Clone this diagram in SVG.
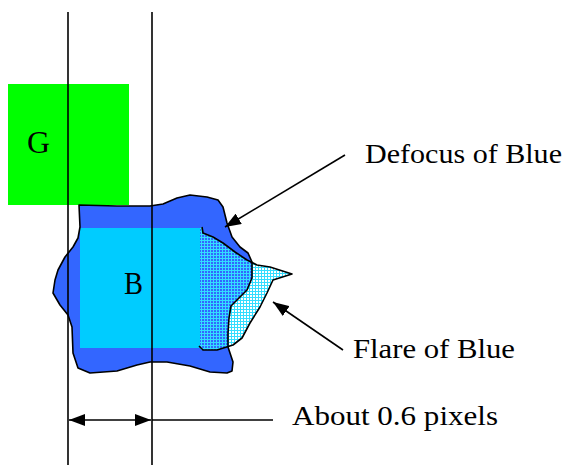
<svg xmlns="http://www.w3.org/2000/svg" width="566" height="465" viewBox="0 0 566 465">
<style>
.lbl{font-family:"Liberation Serif","Times New Roman",serif;font-size:28px;fill:#000}
.big{font-size:31px}
.ln{stroke:#000;stroke-width:1.6;fill:none}
.ol{stroke:#000;stroke-width:1.6;fill:none;stroke-linejoin:round}
</style>
<defs>
<pattern id="mesh" width="3" height="3" patternUnits="userSpaceOnUse">
<rect x="0" y="0" width="3" height="1" fill="#33DDFF"/>
<rect x="0" y="0" width="1" height="3" fill="#33DDFF"/>
</pattern>
<marker id="ah" viewBox="0 0 16 12" refX="16" refY="6" markerWidth="16" markerHeight="12" markerUnits="userSpaceOnUse" orient="auto-start-reverse">
<path d="M0,0 L16,6 L0,12 Z" fill="#000"/>
</marker>
</defs>
<g id="G">
<rect x="8" y="84" width="121" height="121" fill="#00FF00"/>
<text class="lbl big" x="27" y="153" textLength="23" lengthAdjust="spacingAndGlyphs">G</text>
</g>
<g id="B">
<path id="blobfill" fill="#3366FF" d="M79,205 L117,206 L150,206 L163,204 L177,198 L190,195 L207,197 L218,200 L223,207 L227,223 L232,237 L240,247 L248,253 L252,262 L252,278 L247,290 L237,300 L231,306 L229,318 L228,333 L228,347 L230,353 L233,362 L232,371 L227,373 L210,372 L190,366 L167,362 L150,362 L137,365 L117,371 L90,373 L78,368 L73,353 L72,327 L68,315 L60,305 L53,293 L55,280 L58,270 L65,257 L73,247 L78,238 L80,227 Z"/>
<rect x="80" y="228" width="120" height="120" fill="#00CCFF"/>
<text class="lbl big" x="124" y="294" textLength="19" lengthAdjust="spacingAndGlyphs">B</text>
</g>
<g id="flare">
<path fill="url(#mesh)" d="M200,227 L202,227 L203,233 L213,237 L223,243 L235,252 L247,260 L257,265 L270,267 L292,274 L273,280 L267,293 L260,307 L250,323 L242,338 L233,345 L217,350 L203,350 L200,350 Z"/>
<path class="ol" d="M202,227 L203,233 L213,237 L223,243 L235,252 L247,260 L257,265 L270,267 L292,274 L273,280 L267,293 L260,307 L250,323 L242,338 L233,345 L217,350 L203,350 L199,346"/>
</g>
<g id="blob-outline">
<path class="ol" d="M79,205 L117,206 L150,206 L163,204 L177,198 L190,195 L207,197 L218,200 L223,207 L227,223 L232,237 L240,247 L248,253 L252,262 L252,278 L247,290 L237,300 L231,306 L229,318 L228,333 L228,347 L230,353 L233,362 L232,371 L227,373 L210,372 L190,366 L167,362 L150,362 L137,365 L117,371 L90,373 L78,368 L73,353 L72,327 L68,315 L60,305 L53,293 L55,280 L58,270 L65,257 L73,247 L78,238 L80,227 Z"/>
</g>
<g id="connectors">
<line class="ln" x1="68" y1="12" x2="68" y2="465"/>
<line class="ln" x1="152" y1="12" x2="152" y2="465"/>
<line class="ln" x1="345" y1="155" x2="225" y2="227" marker-end="url(#ah)"/>
<line class="ln" x1="343" y1="350" x2="273" y2="302" marker-end="url(#ah)"/>
<line class="ln" x1="69" y1="420" x2="151" y2="420" marker-start="url(#ah)" marker-end="url(#ah)"/>
<line class="ln" x1="152" y1="420" x2="273" y2="420"/>
</g>
<g id="labels">
<text class="lbl" x="365" y="163" textLength="197" lengthAdjust="spacingAndGlyphs">Defocus of Blue</text>
<text class="lbl" x="353" y="358" textLength="162" lengthAdjust="spacingAndGlyphs">Flare of Blue</text>
<text class="lbl" x="292" y="425" textLength="206" lengthAdjust="spacingAndGlyphs">About 0.6 pixels</text>
</g>
</svg>
